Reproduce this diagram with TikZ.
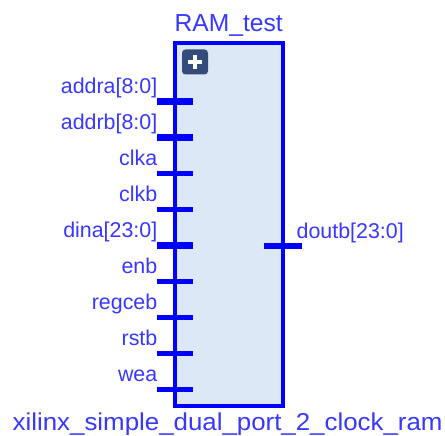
\documentclass[tikz,border=0pt]{standalone}
\usepackage{fontspec}
\setmainfont{Liberation Sans}
\definecolor{pinblue}{RGB}{0,0,255}
\definecolor{labelblue}{RGB}{55,55,255}
\definecolor{bodyfill}{RGB}{221,232,246}
\definecolor{iconfill}{RGB}{52,76,124}
\begin{document}
\begin{tikzpicture}[x=1pt,y=-1pt,
  block/.style={draw=pinblue, line width=4.5pt, fill=bodyfill, inner sep=0pt,
    outer sep=0pt, minimum width=108pt, minimum height=363pt},
  buspin/.style={draw=pinblue, line width=6.5pt},
  bitpin/.style={draw=pinblue, line width=4.5pt},
  pinlabel/.style={text=labelblue, font=\fontsize{21.4}{24}\selectfont, inner sep=0pt},
  expander/.style={fill=iconfill, rounded corners=3.5pt, inner sep=0pt, outer sep=0pt,
    minimum width=26pt, minimum height=25pt},
]
\useasboundingbox (0,0) rectangle (445,436);

% block body
\node[block, anchor=north west] (ram) at (175,43) {};

% expand button
\node[expander, anchor=north west] (expand) at (182,49.5) {};
\draw[white, line width=3.5pt] ([xshift=-7pt]expand.center) -- ([xshift=7pt]expand.center);
\draw[white, line width=3.5pt] ([yshift=-7pt]expand.center) -- ([yshift=7pt]expand.center);

% instance name
\node[anchor=base west, text=labelblue, font=\fontsize{24.6}{28}\selectfont, inner sep=0pt]
  (inst) at (174.5,32) {RAM\_test};

% input pins
\foreach \txt/\k/\sty [count=\i] in {
    addra[8:0]/0/buspin, addrb[8:0]/1/buspin, clka/2/bitpin, clkb/3/bitpin,
    dina[23:0]/4/buspin, enb/5/bitpin, regceb/6/bitpin, rstb/7/bitpin, wea/8/bitpin} {
  \coordinate (pin\i-out) at (157,101.5+36*\k);
  \coordinate (pin\i-in) at (193,101.5+36*\k);
  \draw[\sty] (pin\i-out) -- (pin\i-in);
  \node[pinlabel, anchor=base east] (lab\i) at (157.5,93.5+36*\k) {\txt};
}

% output pin
\coordinate (dout-in) at (264,246);
\coordinate (dout-out) at (302,246);
\draw[buspin] (dout-in) -- (dout-out);
\node[pinlabel, anchor=base west] (labdout) at (296.5,238.3) {doutb[23:0]};

% module name
\node[anchor=base west, text=labelblue, inner sep=0pt] (module) at (12.5,430)
  {\scalebox{1.06}[1]{\fontsize{24.4}{28}\selectfont xilinx\_simple\_dual\_port\_2\_clock\_ram}};
\end{tikzpicture}
\end{document}
